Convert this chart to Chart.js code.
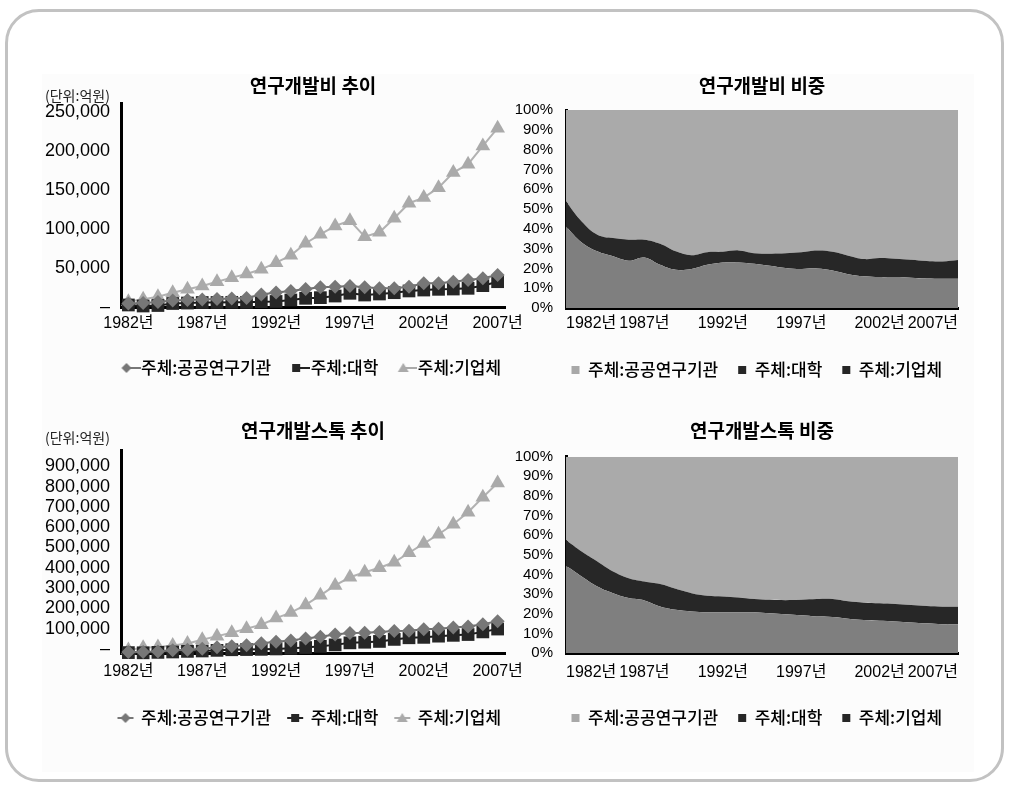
<!DOCTYPE html>
<html>
<head>
<meta charset="utf-8">
<script src="https://cdn.jsdelivr.net/npm/chart.js@4.4.1/dist/chart.umd.min.js"></script>
<style>
  html, body { margin: 0; padding: 0; background: #fff; }
  body { width: 1010px; height: 785px; position: relative; overflow: hidden; }
  #frame { position: absolute; left: 5px; top: 9px; width: 999px; height: 773px;
           border: 3px solid #c2c2c2; border-radius: 34px; box-sizing: border-box; }
  #panel { position: absolute; left: 42px; top: 74px; width: 932px; height: 698px; background: #fcfcfc; }
  canvas { position: absolute; }
</style>
</head>
<body>
<div id="frame"></div>
<div id="panel"></div>
<canvas id="rdLevel" width="510" height="320" style="left:30px;top:70px"></canvas>
<canvas id="rdShare" width="500" height="320" style="left:505px;top:70px"></canvas>
<canvas id="stockLevel" width="510" height="325" style="left:30px;top:415px"></canvas>
<canvas id="stockShare" width="500" height="325" style="left:505px;top:415px"></canvas>
<script>
// Categories: years 1982–2007
const years = ['1982년','1983년','1984년','1985년','1986년','1987년','1988년','1989년','1990년',
  '1991년','1992년','1993년','1994년','1995년','1996년','1997년','1998년','1999년','2000년',
  '2001년','2002년','2003년','2004년','2005년','2006년','2007년'];

const seriesNames = ['주체:공공연구기관', '주체:대학', '주체:기업체'];

// Value-axis tick labels
const rdTicks = [0, 50000, 100000, 150000, 200000, 250000];
const stockTicks = [0, 100000, 200000, 300000, 400000, 500000, 600000, 700000, 800000, 900000];
const shareTicks = [0, 10, 20, 30, 40, 50, 60, 70, 80, 90, 100];

// 연구개발비 (억원)
const rdPublic = [4500, 5100, 6400, 8400, 9000, 9600, 10300, 10900, 11600, 16100, 18600, 20600, 23100,
  25300, 26100, 27000, 25300, 24000, 24000, 26100, 30500, 30500, 32500, 34700, 36900, 41100];
const rdUniv = [2600, 1300, 1900, 4500, 5100, 5800, 5800, 6000, 6000, 6800, 7100, 9000, 11200,
  12000, 14100, 17600, 15400, 16700, 18400, 20600, 21800, 22700, 23100, 24000, 27400, 32500];
const rdBiz = [6800, 9900, 13200, 18400, 22700, 27000, 32500, 37700, 42400, 48400, 56900, 66400, 81900,
  93400, 104100, 110900, 90300, 96000, 114000, 133300, 140500, 153300, 172600, 183400, 206900, 229600];

// 연구개발비 비중 (%)
const rdSharePublic = [41.2, 33.1, 28.6, 26.1, 23.9, 25.5, 21.8, 19.3, 19.7, 21.8, 23.0, 23.0, 22.3,
  21.3, 20.2, 19.7, 20.0, 19.0, 17.1, 16.0, 15.6, 15.6, 15.3, 14.9, 14.8, 14.8];
const rdShareUniv = [12.6, 10.6, 8.4, 9.2, 10.6, 9.0, 10.6, 9.3, 7.0, 6.4, 5.4, 6.1, 5.4,
  6.1, 7.4, 8.4, 9.0, 9.4, 9.3, 8.7, 9.6, 9.3, 9.1, 8.8, 8.7, 9.4];
const rdShareBiz = [46.2, 56.3, 63.0, 64.7, 65.5, 65.5, 67.6, 71.4, 73.3, 71.8, 71.6, 70.9, 72.3,
  72.6, 72.4, 71.9, 71.0, 71.6, 73.6, 75.3, 74.8, 75.1, 75.6, 76.3, 76.5, 75.8];

// 연구개발스톡 (억원)
const stockPublic = [5000, 5000, 8000, 13000, 16000, 21000, 28000, 33000, 38000, 48000, 55000, 62000, 72000,
  80000, 91000, 98000, 100000, 104000, 108000, 110000, 117000, 120000, 126000, 131000, 142000, 157000];
const stockUniv = [2000, 1000, 3000, 5000, 8000, 10000, 13000, 16000, 17000, 18000, 20000, 23000, 27000,
  33000, 40000, 50000, 53000, 57000, 67000, 75000, 77000, 83000, 87000, 91000, 104000, 118000];
const stockBiz = [15000, 26000, 29000, 37000, 47000, 65000, 83000, 100000, 120000, 139000, 172000, 199000, 237000,
  284000, 333000, 373000, 398000, 420000, 447000, 494000, 539000, 585000, 634000, 693000, 767000, 837000];

// 연구개발스톡 비중 (%)
const stockSharePublic = [44.4, 39.0, 33.9, 30.5, 28.0, 26.8, 23.7, 22.0, 21.2, 20.8, 20.8, 20.8, 20.7,
  20.2, 19.7, 19.2, 18.6, 18.3, 17.5, 16.8, 16.4, 16.1, 15.6, 15.1, 14.6, 14.6];
const stockShareUniv = [13.2, 12.7, 12.7, 11.0, 10.1, 9.6, 11.4, 10.7, 9.3, 8.4, 8.0, 7.5, 6.8,
  6.9, 7.2, 7.9, 8.9, 9.2, 8.8, 8.8, 8.9, 8.8, 8.8, 8.8, 9.0, 9.0];
const stockShareBiz = [42.4, 48.3, 53.4, 58.5, 61.9, 63.6, 64.9, 67.3, 69.5, 70.8, 71.2, 71.7, 72.5,
  72.9, 73.1, 72.9, 72.5, 72.5, 73.7, 74.4, 74.7, 75.1, 75.6, 76.1, 76.4, 76.4];

const FONT_KR = "'Noto Sans CJK KR', 'Noto Sans', sans-serif";
const FONT_NUM = "'Liberation Sans', Arial, " + FONT_KR;
const FONT_NARROW = "'Liberation Sans Narrow', 'Liberation Sans', " + FONT_KR;

Chart.defaults.color = '#000';
Chart.defaults.font.family = FONT_KR;

const C_PUBLIC = '#777777', C_UNIV = '#262626', C_BIZ = '#aaaaaa';

// Small "(단위:억원)" caption above the value axis
const unitLabel = {
  id: 'unitLabel',
  afterDraw(chart, args, opts) {
    if (!opts || !opts.text) return;
    const c = chart.ctx;
    c.save();
    c.font = '14px ' + FONT_KR;
    c.fillStyle = '#222';
    c.textBaseline = 'middle';
    c.fillText(opts.text, opts.x, opts.y);
    c.restore();
  }
};

// Moves the legend row sideways after layout so it sits under the plot
const legendShift = {
  id: 'legendShift',
  afterLayout(chart, args, opts) {
    if (chart.legend && opts && opts.dx) {
      chart.legend.left += opts.dx;
      chart.legend.right += opts.dx;
    }
  }
};

// Legend icons: marker plus a short connecting line
function makeIcon(shape, fill, lineColor, mx, x0, x1) {
  const w = 34, h = 16, cy = h / 2;
  const c = document.createElement('canvas');
  c.width = w; c.height = h;
  const g = c.getContext('2d');
  g.strokeStyle = lineColor; g.lineWidth = 2;
  g.beginPath(); g.moveTo(x0, cy); g.lineTo(x1, cy); g.stroke();
  g.fillStyle = fill;
  g.beginPath();
  if (shape === 'diamond') {
    g.moveTo(mx, cy - 5); g.lineTo(mx + 5, cy); g.lineTo(mx, cy + 5); g.lineTo(mx - 5, cy);
  } else if (shape === 'square') {
    g.rect(mx - 4, cy - 4, 8, 8);
  } else {
    g.moveTo(mx, cy - 5); g.lineTo(mx + 5.5, cy + 4); g.lineTo(mx - 5.5, cy + 4);
  }
  g.closePath(); g.fill();
  return c;
}

const yearTick = function (val, i) { return i % 5 === 0 ? this.getLabelForValue(val) : ''; };

// Invisible right-hand spacer axis that keeps room for the last year label
const spacerAxis = w => ({
  type: 'linear', axis: 'y', position: 'right', display: true,
  grid: { display: false, drawTicks: false }, border: { display: false },
  ticks: { display: false }, afterFit: s => { s.width = w; }
});

function levelChart(id, o) {
  const icons = [
    makeIcon('diamond', C_PUBLIC, '#777', o.iconX, o.lineFrom, o.lineTo),
    makeIcon('square', C_UNIV, '#222', o.iconX, o.lineFrom, o.lineTo),
    makeIcon('triangle', C_BIZ, '#aaa', o.iconX, o.lineFrom, o.lineTo)
  ];
  return new Chart(document.getElementById(id), {
    type: 'line',
    data: {
      labels: years,
      datasets: [
        { label: seriesNames[0], data: o.pub, borderColor: '#707070', pointBackgroundColor: C_PUBLIC,
          pointStyle: 'rectRot', pointRadius: 7 },
        { label: seriesNames[1], data: o.univ, borderColor: '#1a1a1a', pointBackgroundColor: C_UNIV,
          pointStyle: 'rect', pointRadius: 9 },
        { label: seriesNames[2], data: o.biz, borderColor: '#b2b2b2', pointBackgroundColor: C_BIZ,
          pointStyle: 'triangle', pointRadius: 8.5 }
      ].map(d => Object.assign(d, { borderWidth: 2, pointBorderWidth: 0, tension: 0, clip: false, fill: false, yAxisID: 'y' }))
    },
    options: {
      responsive: false, animation: false, events: [],
      layout: { padding: { left: 0, top: 0, right: 0, bottom: o.padBottom } },
      plugins: {
        title: { display: true, text: o.title, fullSize: false, color: '#000',
                 font: { family: FONT_KR, size: 19, weight: 'bold' }, padding: { top: 4, bottom: o.titleBottom } },
        legend: {
          position: 'bottom', fullSize: true, align: 'start',
          labels: {
            usePointStyle: true, pointStyleWidth: 18, padding: 13, color: '#000',
            font: { family: FONT_KR, size: 17, weight: '500' },
            generateLabels: chart => chart.data.datasets.map((ds, i) => ({
              text: ds.label, pointStyle: icons[i], fillStyle: 'rgba(0,0,0,0)', strokeStyle: 'rgba(0,0,0,0)',
              lineWidth: 0, hidden: false, datasetIndex: i, fontColor: '#000'
            }))
          }
        },
        legendShift: { dx: o.legendDx },
        tooltip: { enabled: false },
        unitLabel: { text: '(단위:억원)', x: 15, y: o.unitY }
      },
      scales: {
        x: {
          offset: true,
          grid: { display: false, drawTicks: false },
          border: { display: true, color: '#000', width: 3 },
          ticks: { autoSkip: false, maxRotation: 0, padding: o.xPad, color: '#000',
                   font: { family: FONT_NARROW, size: 16 }, callback: yearTick },
          afterFit: s => { s.height = o.xHeight; }
        },
        y: {
          min: 0, max: o.yMax,
          grid: { display: false, drawTicks: false },
          border: { display: true, color: '#000', width: 3 },
          afterBuildTicks: s => { s.ticks = o.ticks.map(v => ({ value: v })); },
          ticks: { autoSkip: false, padding: 11, color: '#000', labelOffset: o.labelOffset,
                   font: { family: FONT_NUM, size: 18 },
                   callback: v => v === 0 ? '–' : v.toLocaleString('en-US') },
          afterFit: s => { s.width = 91; }
        },
        yRight: spacerAxis(o.spacer)
      }
    },
    plugins: [unitLabel, legendShift]
  });
}

function shareChart(id, o) {
  const legendFill = ['#a8a8a8', '#262626', '#262626'];
  return new Chart(document.getElementById(id), {
    type: 'line',
    data: {
      labels: years,
      datasets: [
        { label: seriesNames[0], data: o.pub, backgroundColor: '#7f7f7f', fill: 'origin' },
        { label: seriesNames[1], data: o.univ, backgroundColor: '#272727', fill: '-1' },
        { label: seriesNames[2], data: o.biz, backgroundColor: '#aaaaaa', fill: '-1' }
      ].map(d => Object.assign(d, { borderWidth: 0, borderColor: 'rgba(0,0,0,0)', pointRadius: 0, tension: 0.4, yAxisID: 'y' }))
    },
    options: {
      responsive: false, animation: false, events: [],
      layout: { padding: { left: 0, top: 0, right: 0, bottom: o.padBottom } },
      plugins: {
        title: { display: true, text: o.title, fullSize: false, color: '#000',
                 font: { family: FONT_KR, size: 19, weight: 'bold' }, padding: { top: 4, bottom: o.titleBottom } },
        legend: {
          position: 'bottom', fullSize: true, align: 'start',
          labels: {
            boxWidth: 8, boxHeight: 8, padding: 20, color: '#000',
            font: { family: FONT_KR, size: 17, weight: '500' },
            generateLabels: chart => chart.data.datasets.map((ds, i) => ({
              text: ds.label, fillStyle: legendFill[i], strokeStyle: legendFill[i],
              lineWidth: 0, hidden: false, datasetIndex: i, fontColor: '#000'
            }))
          }
        },
        legendShift: { dx: o.legendDx },
        tooltip: { enabled: false },
        filler: { propagate: false }
      },
      scales: {
        x: {
          offset: false,
          grid: { display: false, drawTicks: false },
          border: { display: true, color: '#000', width: 3 },
          ticks: { autoSkip: false, maxRotation: 0, padding: o.xPad, color: '#000', align: 'inner',
                   font: { family: FONT_NARROW, size: 16 }, callback: yearTick },
          afterFit: s => { s.height = o.xHeight; }
        },
        y: {
          stacked: true, min: 0, max: 100,
          grid: { display: false, drawTicks: false },
          border: { display: true, color: '#000', width: 3 },
          afterBuildTicks: s => { s.ticks = shareTicks.map(v => ({ value: v })); },
          ticks: { autoSkip: false, padding: 13, color: '#000',
                   font: { family: FONT_NUM, size: 15 }, callback: v => v + '%' },
          afterFit: s => { s.width = 61; }
        },
        yRight: spacerAxis(o.spacer)
      }
    },
    plugins: [legendShift]
  });
}

levelChart('rdLevel', {
  title: '연구개발비 추이', pub: rdPublic, univ: rdUniv, biz: rdBiz,
  yMax: 262000, ticks: rdTicks, labelOffset: 0, legendDx: 71.5,
  spacer: 35, padBottom: 3.5, titleBottom: 6.2, xHeight: 39.5, xPad: 7, unitY: 26,
  iconX: 20, lineFrom: 20, lineTo: 34
});

shareChart('rdShare', {
  title: '연구개발비 비중', pub: rdSharePublic, univ: rdShareUniv, biz: rdShareBiz, legendDx: 46.5,
  spacer: 47, padBottom: 1.5, titleBottom: 13.2, xHeight: 33.5, xPad: 6
});

levelChart('stockLevel', {
  title: '연구개발스톡 추이', pub: stockPublic, univ: stockUniv, biz: stockBiz,
  yMax: 1000000, ticks: stockTicks, labelOffset: -4, legendDx: 71.5,
  spacer: 35, padBottom: 3.5, titleBottom: 8.2, xHeight: 43.5, xPad: 9, unitY: 22.7,
  iconX: 19, lineFrom: 11, lineTo: 27
});

shareChart('stockShare', {
  title: '연구개발스톡 비중', pub: stockSharePublic, univ: stockShareUniv, biz: stockShareBiz, legendDx: 46.5,
  spacer: 47, padBottom: 3.5, titleBottom: 14.9, xHeight: 36.5, xPad: 10
});
</script>
</body>
</html>
